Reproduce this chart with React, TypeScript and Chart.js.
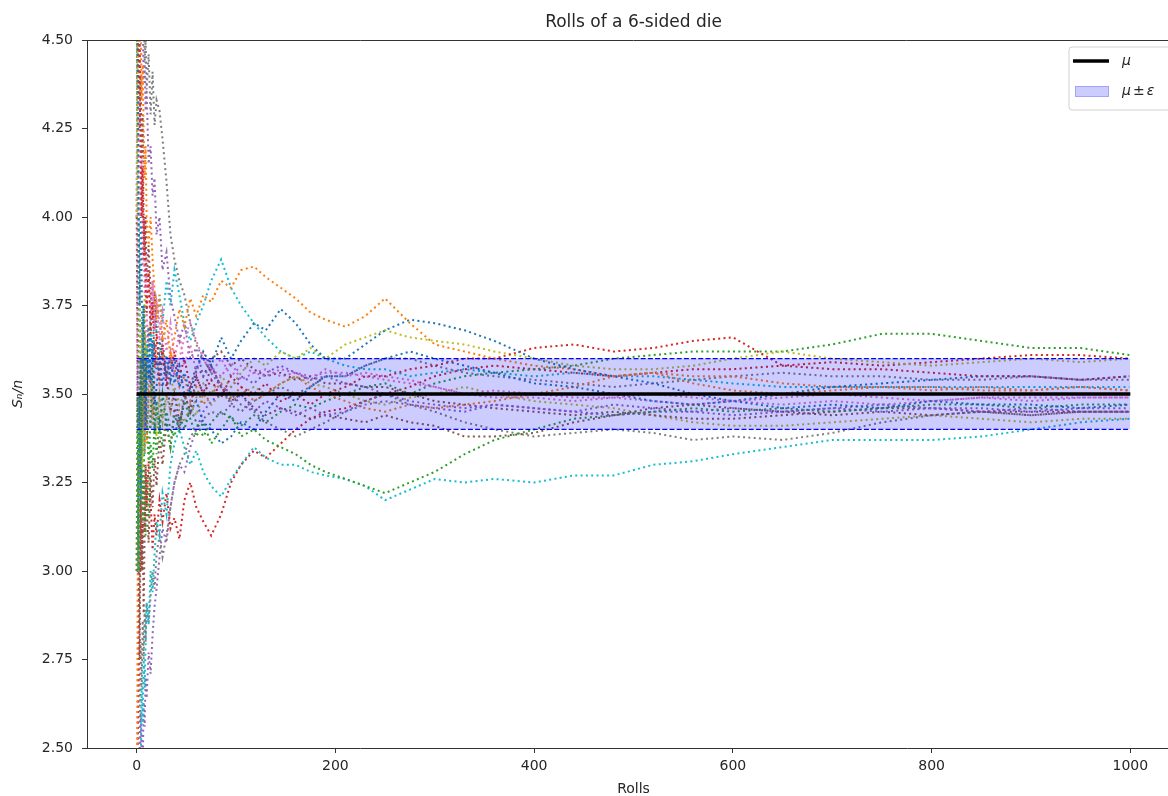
import React, { useEffect, useRef } from "react";
import { Chart, registerables } from "chart.js";

Chart.register(...registerables);

// ---------- data ----------
const ROLLS = [
  0, 1, 2, 3, 4, 5, 6, 7, 8, 9, 10, 12, 14, 16, 18, 20,
  23, 26, 30, 34, 38, 43, 48, 54, 60, 67, 75, 85, 95, 105, 118, 130, 145, 160, 175, 190,
  210, 230, 250, 275, 300, 330, 360, 400, 440, 480, 520, 560, 600, 650, 700, 750, 800, 850, 900, 950, 999,
];

const trial01 = [
  5, 4.5, 4.0, 3.75, 4.0, 3.83, 3.57, 3.75, 3.56, 3.4, 3.55, 3.69, 3.53, 3.65, 3.47, 3.52,
  3.6, 3.52, 3.61, 3.54, 3.6, 3.52, 3.56, 3.5, 3.57, 3.62, 3.58, 3.66, 3.6, 3.65, 3.7, 3.68, 3.74, 3.7, 3.64, 3.6,
  3.6, 3.64, 3.68, 3.71, 3.7, 3.68, 3.65, 3.6, 3.57, 3.55, 3.53, 3.5, 3.48, 3.46, 3.47, 3.46, 3.48, 3.47, 3.47, 3.46, 3.47,
];
const trial02 = [
  6, 5, 4.67, 4.5, 4.6, 4.33, 4.43, 4.25, 4.11, 4.2, 4.0, 3.92, 4.0, 3.88, 3.79, 3.71,
  3.78, 3.65, 3.71, 3.6, 3.66, 3.74, 3.69, 3.77, 3.72, 3.78, 3.76, 3.82, 3.8, 3.85, 3.86, 3.83, 3.8, 3.77, 3.73, 3.71,
  3.69, 3.72, 3.77, 3.7, 3.64, 3.62, 3.6, 3.58, 3.57, 3.55, 3.56, 3.53, 3.51, 3.5, 3.51, 3.52, 3.52, 3.51, 3.51, 3.52, 3.51,
];
const trial03 = [
  3, 3.5, 3.0, 3.25, 3.6, 3.33, 3.57, 3.75, 3.44, 3.6, 3.45, 3.31, 3.43, 3.59, 3.39, 3.48,
  3.39, 3.5, 3.42, 3.35, 3.44, 3.4, 3.48, 3.43, 3.38, 3.42, 3.36, 3.4, 3.44, 3.38, 3.4, 3.37, 3.35, 3.33, 3.3, 3.28,
  3.26, 3.24, 3.22, 3.25, 3.28, 3.33, 3.37, 3.4, 3.43, 3.44, 3.45, 3.46, 3.45, 3.46, 3.45, 3.46, 3.47, 3.47, 3.46, 3.47, 3.47,
];
const trial04 = [
  5, 4.5, 4.33, 4.5, 4.2, 4.0, 4.14, 3.88, 4.0, 3.8, 3.73, 3.85, 3.67, 3.76, 3.58, 3.67,
  3.54, 3.63, 3.52, 3.57, 3.62, 3.55, 3.6, 3.52, 3.55, 3.5, 3.54, 3.49, 3.55, 3.52, 3.5, 3.53, 3.48, 3.5, 3.47, 3.5,
  3.52, 3.55, 3.55, 3.57, 3.58, 3.6, 3.6, 3.63, 3.64, 3.62, 3.63, 3.65, 3.66, 3.58, 3.57, 3.57, 3.56, 3.55, 3.55, 3.54, 3.55,
];
const trial05 = [
  6, 5.5, 5.0, 4.75, 4.8, 4.5, 4.57, 4.38, 4.44, 4.3, 4.36, 4.15, 4.2, 4.06, 4.11, 3.95,
  4.0, 3.85, 3.9, 3.77, 3.72, 3.65, 3.7, 3.6, 3.63, 3.55, 3.58, 3.52, 3.47, 3.5, 3.45, 3.48, 3.46, 3.44, 3.46, 3.44,
  3.45, 3.47, 3.48, 3.47, 3.46, 3.45, 3.47, 3.46, 3.45, 3.47, 3.46, 3.45, 3.46, 3.45, 3.46, 3.45, 3.46, 3.46, 3.45, 3.46, 3.46,
];
const trial06 = [
  4, 3.5, 3.0, 2.75, 3.2, 3.0, 3.14, 2.88, 3.11, 3.3, 3.18, 3.08, 3.27, 3.18, 3.32, 3.24,
  3.38, 3.3, 3.42, 3.35, 3.46, 3.4, 3.5, 3.45, 3.55, 3.5, 3.58, 3.52, 3.48, 3.5, 3.46, 3.44, 3.46, 3.45, 3.43, 3.44,
  3.43, 3.42, 3.44, 3.42, 3.41, 3.38, 3.38, 3.39, 3.42, 3.44, 3.46, 3.47, 3.46, 3.45, 3.44, 3.45, 3.44, 3.45, 3.45, 3.45, 3.45,
];
const trial07 = [
  3, 4.0, 4.33, 4.5, 4.0, 4.17, 3.86, 4.0, 3.78, 3.9, 3.73, 3.85, 3.71, 3.82, 3.68, 3.76,
  3.65, 3.73, 3.62, 3.7, 3.6, 3.67, 3.58, 3.64, 3.56, 3.62, 3.57, 3.55, 3.59, 3.54, 3.56, 3.55, 3.57, 3.56, 3.54, 3.57,
  3.55, 3.56, 3.55, 3.54, 3.52, 3.5, 3.49, 3.49, 3.48, 3.49, 3.5, 3.49, 3.48, 3.49, 3.5, 3.49, 3.48, 3.49, 3.49, 3.49, 3.49,
];
const trial08 = [
  6, 5.5, 5.0, 4.75, 4.8, 4.67, 4.57, 4.63, 4.44, 4.5, 4.36, 4.46, 4.29, 4.41, 4.26, 4.33,
  4.3, 4.22, 4.1, 3.95, 3.88, 3.82, 3.78, 3.7, 3.64, 3.6, 3.56, 3.52, 3.5, 3.47, 3.45, 3.42, 3.4, 3.38, 3.4, 3.42,
  3.45, 3.48, 3.5, 3.47, 3.45, 3.42, 3.4, 3.38, 3.39, 3.4, 3.39, 3.37, 3.38, 3.37, 3.39, 3.42, 3.44, 3.45, 3.44, 3.45, 3.45,
];
const trial09 = [
  4, 4.5, 4.0, 3.75, 3.4, 3.5, 3.29, 3.5, 3.67, 3.5, 3.64, 3.46, 3.4, 3.53, 3.47, 3.38,
  3.48, 3.42, 3.5, 3.45, 3.52, 3.47, 3.5, 3.44, 3.49, 3.53, 3.5, 3.55, 3.52, 3.56, 3.6, 3.58, 3.62, 3.6, 3.63, 3.6,
  3.64, 3.66, 3.68, 3.66, 3.65, 3.64, 3.62, 3.6, 3.58, 3.57, 3.57, 3.58, 3.6, 3.62, 3.6, 3.59, 3.58, 3.59, 3.6, 3.59, 3.6,
];
const trial10 = [
  1, 2.0, 2.33, 2.5, 2.4, 2.67, 2.57, 2.75, 2.67, 2.8, 2.91, 2.85, 3.0, 2.94, 3.05, 3.14,
  3.1, 3.22, 3.16, 3.3, 3.36, 3.4, 3.35, 3.3, 3.34, 3.28, 3.24, 3.21, 3.26, 3.3, 3.35, 3.32, 3.3, 3.3, 3.28, 3.27,
  3.26, 3.24, 3.2, 3.23, 3.26, 3.25, 3.26, 3.25, 3.27, 3.27, 3.3, 3.31, 3.33, 3.35, 3.37, 3.37, 3.37, 3.38, 3.4, 3.42, 3.43,
];
const trial11 = [
  3, 3.0, 3.33, 3.5, 3.2, 3.5, 3.29, 3.5, 3.67, 3.5, 3.64, 3.54, 3.67, 3.59, 3.63, 3.57,
  3.65, 3.6, 3.55, 3.6, 3.53, 3.58, 3.5, 3.45, 3.48, 3.42, 3.4, 3.36, 3.38, 3.42, 3.4, 3.45, 3.5, 3.48, 3.52, 3.55,
  3.55, 3.58, 3.6, 3.62, 3.6, 3.58, 3.56, 3.53, 3.52, 3.5, 3.48, 3.47, 3.48, 3.5, 3.52, 3.53, 3.54, 3.55, 3.55, 3.54, 3.55,
];
const trial12 = [
  2, 3.0, 3.33, 3.25, 3.6, 3.5, 3.71, 3.5, 3.33, 3.5, 3.36, 3.5, 3.57, 3.44, 3.56, 3.62,
  3.52, 3.6, 3.55, 3.62, 3.57, 3.52, 3.55, 3.48, 3.52, 3.47, 3.5, 3.53, 3.49, 3.52, 3.48, 3.5, 3.53, 3.55, 3.52, 3.5,
  3.48, 3.46, 3.45, 3.47, 3.46, 3.47, 3.48, 3.5, 3.52, 3.55, 3.56, 3.55, 3.55, 3.53, 3.52, 3.52, 3.51, 3.52, 3.51, 3.52, 3.51,
];
const trial13 = [
  5, 4.0, 3.67, 3.5, 3.2, 3.33, 3.14, 3.38, 3.22, 3.1, 3.27, 3.15, 3.36, 3.29, 3.42, 3.33,
  3.42, 3.35, 3.45, 3.4, 3.38, 3.44, 3.4, 3.46, 3.42, 3.38, 3.42, 3.45, 3.43, 3.41, 3.44, 3.42, 3.45, 3.47, 3.46, 3.48,
  3.5, 3.52, 3.53, 3.5, 3.53, 3.55, 3.56, 3.57, 3.58, 3.6, 3.61, 3.62, 3.62, 3.62, 3.64, 3.67, 3.67, 3.65, 3.63, 3.63, 3.61,
];
const trial14 = [
  2, 2.5, 2.67, 3.0, 3.2, 3.0, 3.14, 3.25, 3.11, 3.3, 3.18, 3.31, 3.2, 3.06, 3.16, 3.1,
  3.2, 3.14, 3.22, 3.12, 3.15, 3.09, 3.2, 3.25, 3.18, 3.14, 3.1, 3.16, 3.25, 3.3, 3.34, 3.32, 3.36, 3.4, 3.43, 3.45,
  3.46, 3.48, 3.5, 3.52, 3.55, 3.57, 3.58, 3.57, 3.56, 3.55, 3.56, 3.57, 3.57, 3.58, 3.59, 3.58, 3.59, 3.6, 3.61, 3.61, 3.6,
];
const trial15 = [
  1, 1.5, 2.0, 2.25, 2.6, 2.5, 2.43, 2.63, 2.56, 2.7, 2.64, 2.77, 2.71, 2.82, 2.9, 2.95,
  3.04, 3.12, 3.08, 3.18, 3.25, 3.3, 3.28, 3.35, 3.4, 3.45, 3.48, 3.5, 3.52, 3.55, 3.53, 3.56, 3.58, 3.56, 3.54, 3.55,
  3.53, 3.52, 3.5, 3.48, 3.47, 3.46, 3.47, 3.46, 3.45, 3.44, 3.45, 3.45, 3.44, 3.45, 3.46, 3.47, 3.46, 3.45, 3.46, 3.45, 3.45,
];
const trial16 = [
  4, 5.0, 4.67, 4.25, 4.4, 4.17, 4.29, 4.0, 3.89, 4.0, 3.82, 3.92, 3.79, 3.71, 3.79, 3.67,
  3.58, 3.65, 3.55, 3.45, 3.5, 3.42, 3.48, 3.52, 3.58, 3.55, 3.6, 3.62, 3.58, 3.6, 3.57, 3.55, 3.56, 3.54, 3.55, 3.53,
  3.53, 3.52, 3.52, 3.5, 3.48, 3.47, 3.46, 3.45, 3.44, 3.45, 3.44, 3.43, 3.43, 3.44, 3.45, 3.46, 3.46, 3.45, 3.44, 3.45, 3.45,
];
const trial17 = [
  2, 2.5, 3.0, 3.25, 3.4, 3.17, 3.43, 3.63, 3.44, 3.6, 3.73, 3.62, 3.71, 3.82, 3.68, 3.76,
  3.7, 3.63, 3.55, 3.62, 3.55, 3.6, 3.66, 3.7, 3.65, 3.6, 3.56, 3.6, 3.55, 3.58, 3.56, 3.57, 3.55, 3.56, 3.55, 3.56,
  3.56, 3.55, 3.54, 3.53, 3.52, 3.5, 3.51, 3.5, 3.49, 3.49, 3.48, 3.47, 3.48, 3.47, 3.48, 3.47, 3.48, 3.49, 3.48, 3.49, 3.49,
];
const trial18 = [
  1, 2.0, 2.33, 2.5, 2.8, 2.67, 2.86, 2.75, 2.89, 2.8, 2.91, 2.85, 2.93, 3.0, 2.95, 3.05,
  3.1, 3.04, 3.1, 3.18, 3.25, 3.3, 3.33, 3.38, 3.4, 3.43, 3.45, 3.44, 3.47, 3.45, 3.48, 3.5, 3.52, 3.5, 3.52, 3.55,
  3.55, 3.58, 3.6, 3.6, 3.58, 3.56, 3.55, 3.54, 3.53, 3.52, 3.53, 3.54, 3.55, 3.56, 3.55, 3.55, 3.54, 3.54, 3.55, 3.54, 3.54,
];
const trial19 = [
  3, 3.5, 3.0, 3.0, 3.4, 3.67, 3.43, 3.63, 3.78, 3.6, 3.55, 3.69, 3.53, 3.41, 3.5, 3.43,
  3.5, 3.44, 3.48, 3.55, 3.5, 3.45, 3.42, 3.47, 3.44, 3.5, 3.47, 3.5, 3.48, 3.5, 3.52, 3.5, 3.53, 3.55, 3.53, 3.52,
  3.5, 3.48, 3.47, 3.49, 3.5, 3.52, 3.5, 3.48, 3.47, 3.46, 3.44, 3.42, 3.41, 3.41, 3.42, 3.43, 3.44, 3.43, 3.42, 3.43, 3.43,
];
const trial20 = [
  6, 4.5, 4.0, 3.75, 3.6, 3.5, 3.71, 3.5, 3.33, 3.5, 3.64, 3.54, 3.71, 3.59, 3.74, 3.67,
  3.78, 3.7, 3.82, 3.75, 3.85, 3.78, 3.7, 3.65, 3.7, 3.75, 3.82, 3.88, 3.8, 3.75, 3.7, 3.66, 3.62, 3.6, 3.62, 3.6,
  3.58, 3.57, 3.57, 3.55, 3.56, 3.57, 3.56, 3.55, 3.56, 3.55, 3.55, 3.54, 3.53, 3.52, 3.52, 3.52, 3.52, 3.52, 3.52, 3.52, 3.52,
];

const TRIALS = [trial01, trial02, trial03, trial04, trial05, trial06, trial07, trial08, trial09, trial10, trial11, trial12, trial13, trial14, trial15, trial16, trial17, trial18, trial19, trial20];

const MU = 3.5;
const EPS = 0.1;
const REF_X = [0, 1000];
const X_TICKS = [0, 200, 400, 600, 800, 1000];
const Y_MIN = 2.5;
const Y_MAX = 4.5;
const Y_STEP = 0.25;

// ---------- styles ----------
const TAB10 = ["#1f77b4", "#ff7f0e", "#2ca02c", "#d62728", "#9467bd", "#8c564b", "#e377c2", "#7f7f7f", "#bcbd22", "#17becf"];
const TEXT = "#262626";
const AXIS = "#333333";
const FONT = '"DejaVu Sans", sans-serif';

const topSpine = {
  id: "topSpine",
  afterDraw(chart: any) {
    const { ctx, chartArea } = chart;
    ctx.save();
    ctx.strokeStyle = AXIS;
    ctx.lineWidth = 1;
    ctx.beginPath();
    ctx.moveTo(chartArea.left, chartArea.top + 0.5);
    ctx.lineTo(chartArea.right, chartArea.top + 0.5);
    ctx.stroke();
    ctx.restore();
  },
};

const legendBox = {
  id: "legendBox",
  afterDraw(chart: any) {
    const { ctx, chartArea } = chart;
    const x0 = chartArea.right - 111;
    const y0 = chartArea.top + 7;
    const w = 104;
    const h = 63;
    const r = 3;
    ctx.save();
    ctx.beginPath();
    ctx.moveTo(x0 + r, y0);
    ctx.lineTo(x0 + w - r, y0);
    ctx.arcTo(x0 + w, y0, x0 + w, y0 + r, r);
    ctx.lineTo(x0 + w, y0 + h - r);
    ctx.arcTo(x0 + w, y0 + h, x0 + w - r, y0 + h, r);
    ctx.lineTo(x0 + r, y0 + h);
    ctx.arcTo(x0, y0 + h, x0, y0 + h - r, r);
    ctx.lineTo(x0, y0 + r);
    ctx.arcTo(x0, y0, x0 + r, y0, r);
    ctx.closePath();
    ctx.fillStyle = "rgba(255,255,255,0.8)";
    ctx.fill();
    ctx.strokeStyle = "#d0d0d0";
    ctx.lineWidth = 1;
    ctx.stroke();

    ctx.strokeStyle = "#000";
    ctx.lineWidth = 3.5;
    ctx.beginPath();
    ctx.moveTo(x0 + 4, y0 + 14);
    ctx.lineTo(x0 + 40, y0 + 14);
    ctx.stroke();

    ctx.fillStyle = "rgba(0,0,255,0.2)";
    ctx.fillRect(x0 + 6, y0 + 39, 34, 11);
    ctx.strokeStyle = "rgba(0,0,255,0.2)";
    ctx.lineWidth = 1;
    ctx.strokeRect(x0 + 6.5, y0 + 39.5, 33, 10);

    ctx.fillStyle = TEXT;
    ctx.textBaseline = "middle";
    ctx.textAlign = "left";
    const italic = `italic 14px ${FONT}`;
    const upright = `14px ${FONT}`;
    ctx.font = italic;
    ctx.fillText("μ", x0 + 53, y0 + 14);

    let tx = x0 + 53;
    const ty = y0 + 44;
    ctx.font = italic;
    ctx.fillText("μ", tx, ty);
    tx += ctx.measureText("μ").width + 2;
    ctx.font = upright;
    ctx.fillText("±", tx, ty);
    tx += ctx.measureText("±").width + 2;
    ctx.font = italic;
    ctx.fillText("ε", tx, ty);
    ctx.restore();
  },
};

export default function App() {
  const canvasRef = useRef<HTMLCanvasElement | null>(null);

  useEffect(() => {
    if (!canvasRef.current) return;

    const trialSets = TRIALS.map((vals, i) => ({
      label: `trial ${i + 1}`,
      data: ROLLS.map((n, k) => ({ x: n, y: vals[k] })),
      borderColor: TAB10[i % 10],
      backgroundColor: TAB10[i % 10],
      borderWidth: 2,
      borderDash: [2, 3.3],
      borderCapStyle: "butt" as const,
      pointRadius: 0,
      tension: 0,
      fill: false,
    }));

    const refSets = [
      {
        label: "μ",
        data: REF_X.map((x) => ({ x, y: MU })),
        borderColor: "#000",
        borderWidth: 3.5,
        pointRadius: 0,
        fill: false,
      },
      {
        label: "upper",
        data: REF_X.map((x) => ({ x, y: MU + EPS })),
        borderColor: "#0000ff",
        borderWidth: 1.3,
        borderDash: [5, 2.2],
        pointRadius: 0,
        fill: false,
      },
      {
        label: "μ ± ε",
        data: REF_X.map((x) => ({ x, y: MU - EPS })),
        borderColor: "#0000ff",
        borderWidth: 1.3,
        borderDash: [5, 2.2],
        pointRadius: 0,
        fill: { target: "-1" },
        backgroundColor: "rgba(0,0,255,0.2)",
      },
    ];

    const chart = new Chart(canvasRef.current, {
      type: "line",
      data: { datasets: [...refSets, ...trialSets] as any },
      plugins: [topSpine, legendBox],
      options: {
        animation: false,
        responsive: false,
        maintainAspectRatio: false,
        parsing: false as any,
        normalized: true,
        layout: { padding: { left: 0, right: 20, top: 0, bottom: 0 } },
        plugins: {
          legend: { display: false },
          tooltip: { enabled: false },
          title: {
            display: true,
            text: "Rolls of a 6-sided die",
            fullSize: false,
            color: TEXT,
            font: { family: FONT, size: 17, weight: "normal" },
            padding: { top: 12, bottom: 7.6 },
          },
        },
        scales: {
          x: {
            type: "linear",
            min: -50,
            max: 1050,
            afterBuildTicks: (s: any) => {
              s.ticks = X_TICKS.map((v) => ({ value: v }));
            },
            afterFit: (s: any) => {
              s.height = 48;
            },
            ticks: {
              color: TEXT,
              font: { family: FONT, size: 14 },
              padding: 5,
              maxRotation: 0,
              autoSkip: false,
              callback: (v: any) => String(v),
            },
            grid: {
              display: true,
              drawOnChartArea: false,
              drawTicks: true,
              tickLength: 5,
              color: AXIS,
            },
            border: { display: true, color: AXIS, width: 1 },
            title: {
              display: true,
              text: "Rolls",
              color: TEXT,
              font: { family: FONT, size: 14, lineHeight: 1 },
              padding: { top: 0, bottom: 0 },
            },
          },
          y: {
            type: "linear",
            min: Y_MIN,
            max: Y_MAX,
            afterFit: (s: any) => {
              s.width = 87;
            },
            ticks: {
              stepSize: Y_STEP,
              color: TEXT,
              font: { family: FONT, size: 14 },
              padding: 9,
              callback: (v: any) => Number(v).toFixed(2),
            },
            grid: {
              display: true,
              drawOnChartArea: false,
              drawTicks: true,
              tickLength: 5,
              color: AXIS,
            },
            border: { display: true, color: AXIS, width: 1 },
            title: {
              display: true,
              text: "Sₙ/n",
              color: TEXT,
              font: { family: FONT, size: 14, style: "italic" },
              padding: { top: 9.6, bottom: 0 },
            },
          },
        },
      },
    });

    return () => chart.destroy();
  }, []);

  return (
    <div
      style={{
        position: "fixed",
        left: 0,
        top: 0,
        width: 1168,
        height: 796,
        overflow: "hidden",
        background: "#fff",
      }}
    >
      <canvas
        ref={canvasRef}
        width={1200}
        height={796}
        style={{ width: 1200, height: 796, display: "block" }}
      />
    </div>
  );
}
